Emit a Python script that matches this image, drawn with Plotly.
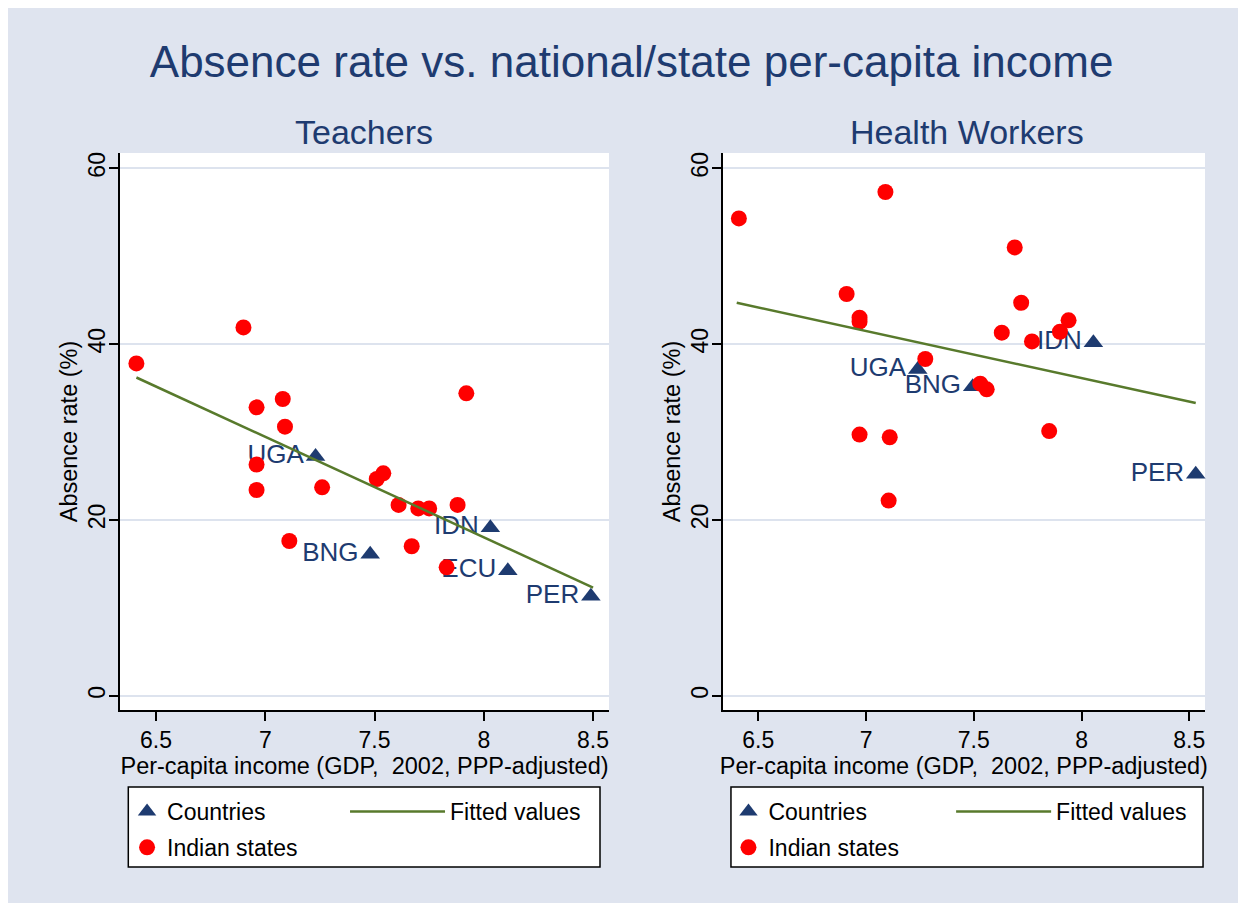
import plotly.graph_objects as go

# ---------------- data ----------------
# Teachers panel
t_country = ["UGA", "BNG", "IDN", "ECU", "PER"]
t_country_x = [7.23, 7.48, 8.03, 8.11, 8.49]
t_country_y = [27.2, 16.1, 19.1, 14.2, 11.3]
t_state_x = [6.41, 6.90, 6.96, 7.08, 7.09, 6.96, 6.96, 7.26, 7.11,
             7.51, 7.54, 7.61, 7.70, 7.75, 7.88, 7.92, 7.67, 7.83]
t_state_y = [37.8, 41.9, 32.8, 33.75, 30.6, 26.3, 23.4, 23.7, 17.6,
             24.65, 25.3, 21.7, 21.3, 21.3, 21.7, 34.4, 17.0, 14.6]
t_fit_x = [6.41, 8.50]
t_fit_y = [36.2, 12.3]

# Health workers panel
h_country = ["UGA", "BNG", "IDN", "PER"]
h_country_x = [7.24, 7.495, 8.055, 8.53]
h_country_y = [37.1, 35.15, 40.15, 25.2]
h_state_x = [6.41, 7.09, 6.91, 6.97, 6.97, 7.275, 7.69, 7.72, 7.63,
             7.77, 7.94, 7.90, 7.53, 7.56, 6.97, 7.11, 7.85, 7.105]
h_state_y = [54.3, 57.3, 45.7, 43.0, 42.55, 38.3, 51.0, 44.7, 41.3,
             40.3, 42.7, 41.4, 35.5, 34.85, 29.7, 29.4, 30.1, 22.2]
h_fit_x = [6.40, 8.53]
h_fit_y = [44.7, 33.3]

x_ticks = [6.5, 7, 7.5, 8, 8.5]
x_tick_text = ["6.5", "7", "7.5", "8", "8.5"]
y_ticks = [0, 20, 40, 60]

title_text = "Absence rate vs. national/state per-capita income"
panel_titles = ["Teachers", "Health Workers"]
x_title = "Per-capita income (GDP,\u00a0 2002, PPP-adjusted)"
y_title = "Absence rate (%)"

# ---------------- styling ----------------
FONT = "Liberation Sans, Arial, sans-serif"
BG = "#dfe4ef"
NAVY = "#1e3b70"
RED = "#ff0000"
GREEN = "#587a2c"
GRID = "#dde3ee"

fig = go.Figure()


def add_panel(sfx, cx, cy, clab, sx, sy, fx, fy, leg_a, leg_b):
    xa = "x" + sfx
    ya = "y" + sfx
    fig.add_trace(go.Scatter(
        x=cx, y=cy, text=clab, mode="markers+text", name="Countries",
        textposition="middle left",
        textfont=dict(family=FONT, size=26, color=NAVY),
        marker=dict(symbol="triangle-up", size=17, color=NAVY),
        xaxis=xa, yaxis=ya, legend=leg_a, legendgroup="c" + sfx,
        cliponaxis=False))
    fig.add_trace(go.Scatter(
        x=sx, y=sy, mode="markers", name="Indian states",
        marker=dict(symbol="circle", size=16, color=RED),
        xaxis=xa, yaxis=ya, legend=leg_a, legendgroup="s" + sfx))
    fig.add_trace(go.Scatter(
        x=fx, y=fy, mode="lines", name="Fitted values",
        line=dict(color=GREEN, width=2.5),
        xaxis=xa, yaxis=ya, legend=leg_b))


add_panel("", t_country_x, t_country_y, t_country, t_state_x, t_state_y,
          t_fit_x, t_fit_y, "legend", "legend2")
add_panel("2", h_country_x, h_country_y, h_country, h_state_x, h_state_y,
          h_fit_x, h_fit_y, "legend3", "legend4")

axis_font = dict(family=FONT, size=23, color="black")
title_font = dict(family=FONT, size=23.5, color="black")

xcommon = dict(range=[6.335, 8.573], tickvals=x_ticks, ticktext=x_tick_text,
               showgrid=False, zeroline=False, showline=True,
               linecolor="black", linewidth=1.5, ticks="outside", ticklen=9,
               tickwidth=1.5, tickcolor="black", tickfont=axis_font,
               title=dict(text=x_title, font=title_font, standoff=0))
ycommon = dict(range=[-1.63, 61.74], tickvals=y_ticks, showgrid=True,
               gridcolor=GRID, gridwidth=2, zeroline=True,
               zerolinecolor=GRID, zerolinewidth=2, showline=True,
               linecolor="black", linewidth=1.5, ticks="outside", ticklen=9,
               tickwidth=1.5, tickcolor="black", tickfont=axis_font,
               tickangle=-90, ticklabelstandoff=-5,
               title=dict(text=y_title, font=title_font, standoff=0))

legend_common = dict(orientation="v", bgcolor="rgba(0,0,0,0)",
                     borderwidth=0, font=dict(family=FONT, size=23,
                                              color="black"),
                     yanchor="top", xanchor="left", y=-0.1436,
                     traceorder="grouped", tracegroupgap=3)

fig.update_layout(
    width=1230, height=895,
    paper_bgcolor=BG, plot_bgcolor="white",
    margin=dict(l=112, r=33, t=145, b=193, autoexpand=False),
    showlegend=True,
    title=dict(text=title_text, x=0.507, xanchor="center", y=0.9397,
               yanchor="middle", font=dict(family=FONT, size=44, color=NAVY)),
    xaxis=dict(domain=[0, 0.4507], anchor="y", **xcommon),
    yaxis=dict(domain=[0, 1], anchor="x", **ycommon),
    xaxis2=dict(domain=[0.5555, 1], anchor="y2", **xcommon),
    yaxis2=dict(domain=[0, 1], anchor="x2", **ycommon),
    legend=dict(x=0.0065, itemwidth=30, **legend_common),
    legend2=dict(x=0.2074, itemwidth=95, **legend_common),
    legend3=dict(x=0.5608, itemwidth=30, **legend_common),
    legend4=dict(x=0.7660, itemwidth=95, **legend_common),
    annotations=[
        dict(text=panel_titles[0], x=0.2249, y=1.0377, xref="paper",
             yref="paper", showarrow=False, xanchor="center",
             yanchor="middle", font=dict(family=FONT, size=34, color=NAVY)),
        dict(text=panel_titles[1], x=0.7806, y=1.0377, xref="paper",
             yref="paper", showarrow=False, xanchor="center",
             yanchor="middle", font=dict(family=FONT, size=34, color=NAVY)),
    ],
    shapes=[
        dict(type="rect", xref="paper", yref="paper", x0=0.00765, x1=0.4424,
             y0=-0.1382, y1=-0.2819, fillcolor="white",
             line=dict(color="black", width=1.5), layer="below"),
        dict(type="rect", xref="paper", yref="paper", x0=0.5631, x1=0.9982,
             y0=-0.1382, y1=-0.2819, fillcolor="white",
             line=dict(color="black", width=1.5), layer="below"),
    ],
)

fig.write_html("out.html")
